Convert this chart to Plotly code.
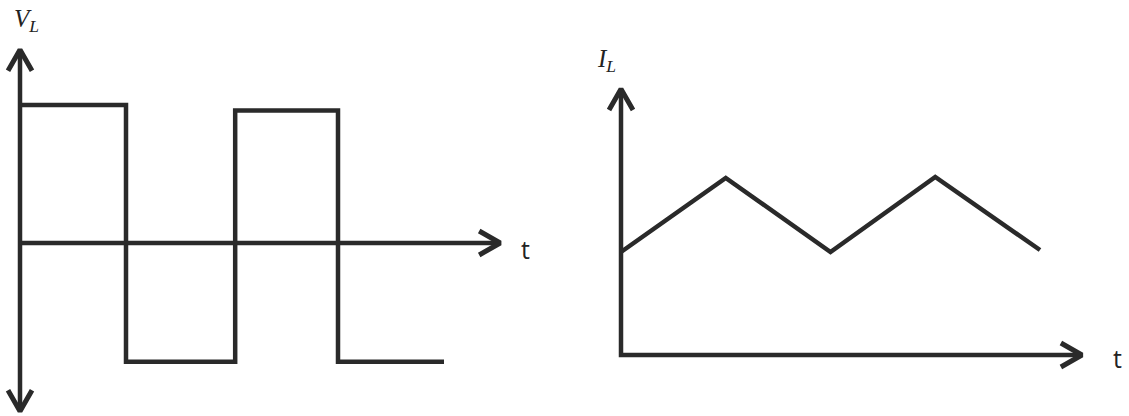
import plotly.graph_objects as go

# ---- data ----
# Left chart: inductor voltage square wave
vl_t = [0, 1, 2.03, 3, 4]
vl_v = [1.0, -0.86, 0.96, -0.86, -0.86]
# Right chart: inductor current triangle wave
il_t = [0, 1, 2, 3, 4]
il_i = [1.03, 1.77, 1.03, 1.78, 1.05]

# axis extents (data units)
left_x_max, left_y_min, left_y_max = 4.53, -1.22, 1.40
right_x_max, right_y_max = 4.40, 2.66

color = "#2a2a2a"
W, H = 1129, 416

# pixel scales used to set axis ranges
lx0, lpx = 20, 106.0      # left: t=0 at px 20, px per unit
ly0, lpy = 243, 138.0     # left: V=0 at px 243
rx0, rpx = 621, 104.75
ry0, rpy = 355, 100.0

fig = go.Figure()

# waveforms
fig.add_trace(go.Scatter(x=vl_t, y=vl_v, mode="lines", line=dict(color=color, width=4.5, shape="hv"),
                         xaxis="x", yaxis="y", hoverinfo="skip"))
fig.add_trace(go.Scatter(x=il_t, y=il_i, mode="lines", line=dict(color=color, width=4.5),
                         xaxis="x2", yaxis="y2", hoverinfo="skip"))

# axes lines
fig.add_trace(go.Scatter(x=[0, 0], y=[left_y_min, left_y_max], mode="lines",
                         line=dict(color=color, width=4.5), xaxis="x", yaxis="y", hoverinfo="skip"))
fig.add_trace(go.Scatter(x=[0, left_x_max], y=[0, 0], mode="lines",
                         line=dict(color=color, width=4.5), xaxis="x", yaxis="y", hoverinfo="skip"))
fig.add_trace(go.Scatter(x=[0, 0, right_x_max], y=[right_y_max, 0, 0], mode="lines",
                         line=dict(color=color, width=4.5), xaxis="x2", yaxis="y2", hoverinfo="skip"))

# chevron arrowheads (size in pixels converted to data units)
back, half = 21, 12

def chevron(xt, yt, direction, spx, spy, xa, ya):
    if direction == "right":
        xs = [xt - back / spx, xt, xt - back / spx]
        ys = [yt + half / spy, yt, yt - half / spy]
    elif direction == "up":
        xs = [xt - half / spx, xt, xt + half / spx]
        ys = [yt - back / spy, yt, yt - back / spy]
    else:  # down
        xs = [xt - half / spx, xt, xt + half / spx]
        ys = [yt + back / spy, yt, yt + back / spy]
    fig.add_trace(go.Scatter(x=xs, y=ys, mode="lines", line=dict(color=color, width=5),
                             xaxis=xa, yaxis=ya, hoverinfo="skip"))

chevron(left_x_max, 0, "right", lpx, lpy, "x", "y")
chevron(0, left_y_max, "up", lpx, lpy, "x", "y")
chevron(0, left_y_min, "down", lpx, lpy, "x", "y")
chevron(right_x_max, 0, "right", rpx, rpy, "x2", "y2")
chevron(0, right_y_max, "up", rpx, rpy, "x2", "y2")

# labels
serif = "Liberation Serif"
fig.add_annotation(x=0.06, y=1.61, xref="x", yref="y", text="<i>V<sub>L</sub></i>",
                   showarrow=False, font=dict(family=serif, size=25, color="#222"))
fig.add_annotation(x=-0.14, y=2.95, xref="x2", yref="y2", text="<i>I<sub>L</sub></i>",
                   showarrow=False, font=dict(family=serif, size=25, color="#222"))
fig.add_annotation(x=left_x_max + 0.24, y=-0.04, xref="x", yref="y", text="t",
                   showarrow=False, font=dict(family="Open Sans", size=25, color="#222"))
fig.add_annotation(x=right_x_max + 0.34, y=-0.03, xref="x2", yref="y2", text="t",
                   showarrow=False, font=dict(family="Open Sans", size=25, color="#222"))

split = 0.5
ax_common = dict(visible=False, showgrid=False, zeroline=False, fixedrange=True)
fig.update_layout(
    width=W, height=H,
    margin=dict(l=0, r=0, t=0, b=0),
    paper_bgcolor="white", plot_bgcolor="white",
    showlegend=False,
    xaxis=dict(domain=[0, split], range=[-lx0 / lpx, (W * split - lx0) / lpx], **ax_common),
    yaxis=dict(domain=[0, 1], range=[-(H - ly0) / lpy, ly0 / lpy], **ax_common),
    xaxis2=dict(domain=[split, 1], range=[(W * split - rx0) / rpx, (W - rx0) / rpx], anchor="y2", **ax_common),
    yaxis2=dict(domain=[0, 1], range=[-(H - ry0) / rpy, ry0 / rpy], anchor="x2", **ax_common),
)

fig.write_html("out.html", config={"displayModeBar": False, "staticPlot": True},
               post_script="document.body.style.margin='0px';")
